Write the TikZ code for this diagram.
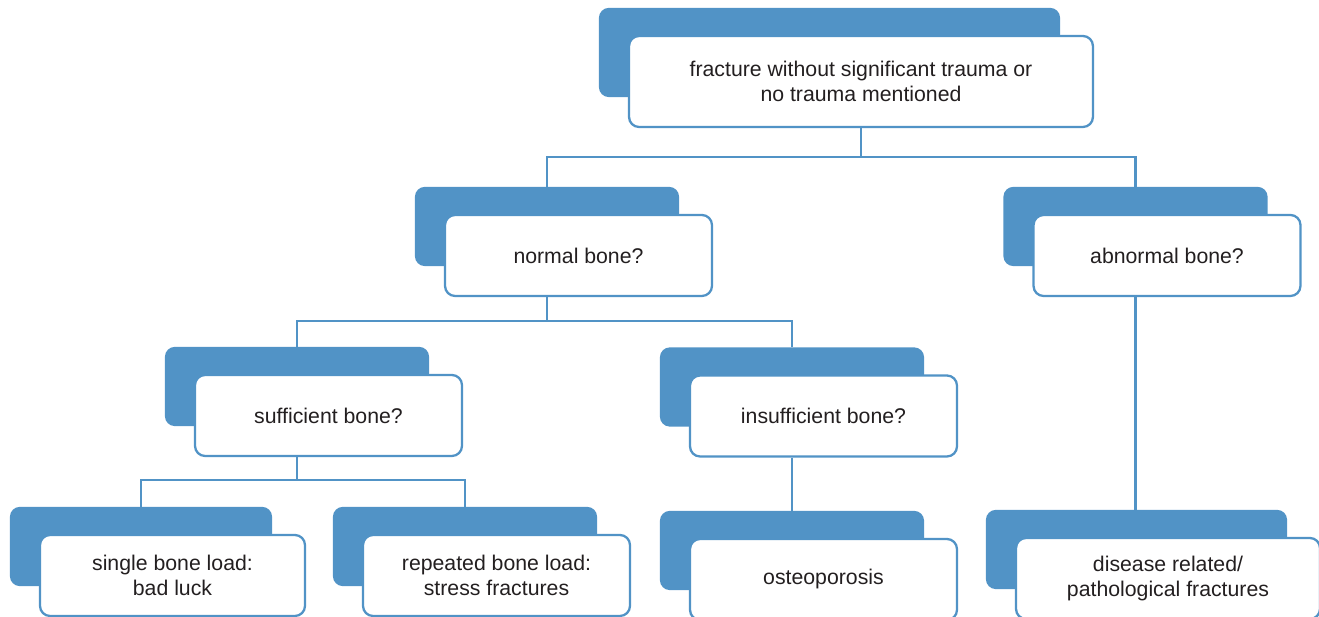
\documentclass[tikz,border=0pt]{standalone}
\usepackage{fontspec}
\setmainfont{Liberation Sans}
\usetikzlibrary{fit,backgrounds}
\definecolor{boneblue}{HTML}{5193C6}
\definecolor{textgray}{HTML}{231F20}

\begin{document}
\begin{tikzpicture}[
                x=0.02cm, y=-0.02cm,
                box/.style={rectangle, rounded corners=0.2cm, draw=boneblue, line width=1.3pt, fill=white, minimum width=5.34cm, minimum height=1.62cm, inner sep=0pt, align=center, text=textgray, font=\fontsize{12.1}{14.3}\selectfont},
                back/.style={rectangle, rounded corners=0.2cm, fill=boneblue, inner sep=0pt},
                link/.style={draw=boneblue, line width=1.3pt}
            ]
                \useasboundingbox (0,0) rectangle (1319,617);

                \node[box, minimum width=9.28cm, minimum height=1.82cm] (top) at (861,81.5) {fracture without significant trauma or \\ no trauma mentioned};
                \node[box] (normal) at (578.5,255.5) {normal bone?};
                \node[box] (abnormal) at (1167,255.5) {abnormal bone?};
                \node[box] (sufficient) at (328.5,415.5) {sufficient bone?};
                \node[box] (insufficient) at (823.5,416) {insufficient bone?};
                \node[box, minimum width=5.3cm] (single) at (172.5,575.5) {single bone load: \\ bad luck};
                \node[box] (repeated) at (496.5,575.5) {repeated bone load: \\ stress fractures};
                \node[box] (osteo) at (823.5,579.5) {osteoporosis};
                \node[box, minimum width=6.08cm] (disease) at (1168,578.5) {disease related/ \\ pathological fractures};

                % blue tabs behind the boxes
                \begin{scope}[on background layer]
                    \foreach \n in {top,normal,abnormal,sufficient,insufficient,single,repeated,osteo,disease}
                        \node[back, fit={([shift={(-29,-27)}]\n.north west) ([shift={(-34,-31)}]\n.south east)}] (\n-bk) {};
                \end{scope}

                \draw[link] (top.south) -- ++(0,29) coordinate (topfork) -| (normal-bk.north);
                \draw[link] (topfork) -| (abnormal-bk.north);
                \draw[link] (normal-bk.center |- normal.south) -- ++(0,24) coordinate (normalfork) -| (sufficient-bk.north);
                \draw[link] (normalfork) -| (insufficient-bk.north);
                \draw[link] (sufficient-bk.center |- sufficient.south) -- ++(0,23) coordinate (sufficientfork) -| (single-bk.north);
                \draw[link] (sufficientfork) -| (repeated-bk.north);
                \draw[link] (insufficient-bk.center |- insufficient.south) -- (insufficient-bk.center |- osteo-bk.north);
                \draw[link] (abnormal-bk.center |- abnormal.south) -- (abnormal-bk.center |- disease-bk.north);
            \end{tikzpicture}
\end{document}
